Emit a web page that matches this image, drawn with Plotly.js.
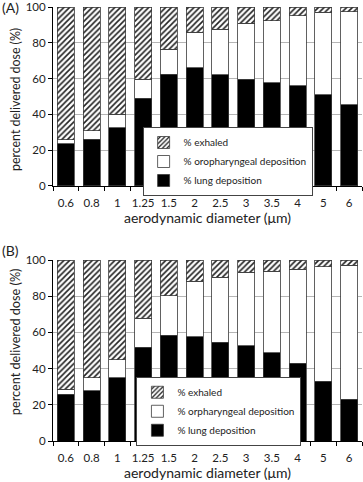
<!DOCTYPE html>
<html>
<head>
<meta charset="utf-8">
<script src="https://cdn.plot.ly/plotly-3.0.1.min.js"></script>
<style>html,body{margin:0;padding:0;background:#fff;}#chart{width:363px;height:482px;}</style>
</head>
<body>
<div id="chart"></div>
<script>
const categories = ["0.6","0.8","1","1.25","1.5","2","2.5","3","3.5","4","5","6"];
// Panel A
const lungA    = [23.5,26.1,32.6,48.9,62.3,66.2,62.1,59.7,57.6,56.0,50.9,45.5];
const oroA     = [2.2,4.7,7.5,10.8,14.2,19.8,25.6,31.2,34.8,39.1,46.3,51.9];
const exhaledA = [74.3,69.2,59.9,40.3,23.5,14.0,12.3,9.1,7.6,4.9,2.8,2.6];
// Panel B
const lungB    = [25.8,27.8,35.0,51.9,58.4,57.5,54.7,52.7,48.8,42.9,33.0,23.0];
const oroB     = [2.9,7.2,9.8,15.9,21.9,30.9,35.7,40.5,44.9,51.9,63.3,74.2];
const exhaledB = [71.3,65.0,55.2,32.2,19.7,11.6,9.6,6.8,6.3,5.2,3.7,2.8];

const yTicks = [0,20,40,60,80,100];
const legendNamesA = ["% lung deposition","% oropharyngeal deposition","% exhaled"];
const legendNamesB = ["% lung deposition","% orpharyngeal deposition","% exhaled"];
const xTitle = "aerodynamic diameter (μm)";
const yTitle = "percent delivered dose (%)";

const FONT = "Lato, 'Open Sans', sans-serif";
const lineStyle = {color:"#3a3a3a", width:0.8};

function traces(lung, oro, exh, names, xa, ya, leg){
  return [
    {type:"bar", x:categories, y:lung, name:names[0], xaxis:xa, yaxis:ya, legend:leg,
     marker:{color:"#000", line:lineStyle}},
    {type:"bar", x:categories, y:oro, name:names[1], xaxis:xa, yaxis:ya, legend:leg,
     marker:{color:"#fff", line:lineStyle}},
    {type:"bar", x:categories, y:exh, name:names[2], xaxis:xa, yaxis:ya, legend:leg,
     marker:{color:"#fff", line:lineStyle,
       pattern:{shape:"/", fgcolor:"#222", bgcolor:"#fff", size:4, solidity:0.4}}}
  ];
}

const data = [
  ...traces(lungA, oroA, exhaledA, legendNamesA, "x", "y", "legend"),
  ...traces(lungB, oroB, exhaledB, legendNamesB, "x2", "y2", "legend2")
];

function xax(anchor){
  return {anchor:anchor, type:"category", showgrid:false, showline:true, linecolor:"#000", linewidth:1,
    ticks:"outside", tickson:"boundaries", ticklen:4, tickcolor:"#000", tickangle:0, ticklabelstandoff:6,
    tickfont:{family:FONT, size:11.5, color:"#222"},
    title:{text:xTitle, font:{family:FONT, size:14, color:"#222"}, standoff:0}};
}
function yax(anchor, domain){
  return {anchor:anchor, domain:domain, range:[0,100], tickvals:yTicks, showgrid:true, gridcolor:"#b5b5b5", gridwidth:1,
    showline:true, linecolor:"#000", linewidth:1, ticks:"outside", ticklen:4, tickcolor:"#000",
    zeroline:false, tickfont:{family:FONT, size:11.5, color:"#222"}};
}

function legend(x, y){
  return {x:x, y:y, xref:"paper", yref:"paper", xanchor:"left", yanchor:"top",
    traceorder:"reversed", bgcolor:"#fff", bordercolor:"#444", borderwidth:1,
    font:{family:FONT, size:10, color:"#222"}, itemwidth:30, tracegroupgap:0};
}

function ytitle(y, size){
  return {text:yTitle, xref:"paper", yref:"paper", x:-0.123, y:y, xanchor:"center", yanchor:"middle",
    textangle:-90, showarrow:false, font:{family:FONT, size:size, color:"#222"}};
}
function panelLabel(text, y){
  return {text:text, xref:"paper", yref:"paper", x:-0.172, y:y, xanchor:"left", yanchor:"middle", showarrow:false,
    font:{family:FONT, size:14, color:"#222"}};
}

const layout = {
  width:363, height:482,
  margin:{l:53, r:1, t:7, b:41},
  paper_bgcolor:"#fff", plot_bgcolor:"#fff",
  barmode:"stack", bargap:0.34,
  showlegend:true,
  xaxis: xax("y"),
  yaxis: yax("x", [0.5876, 1]),
  xaxis2: xax("y2"),
  yaxis2: yax("x2", [0, 0.417]),
  legend: legend(0.29, 0.7235),
  legend2: legend(0.27, 0.148),
  annotations:[
    panelLabel("(A)", 0.9977),
    panelLabel("(B)", 0.440),
    ytitle(0.788, 12.4),
    ytitle(0.230, 12.7)
  ]
};

Plotly.newPlot("chart", data, layout, {displayModeBar:false, staticPlot:true});
</script>
</body>
</html>
